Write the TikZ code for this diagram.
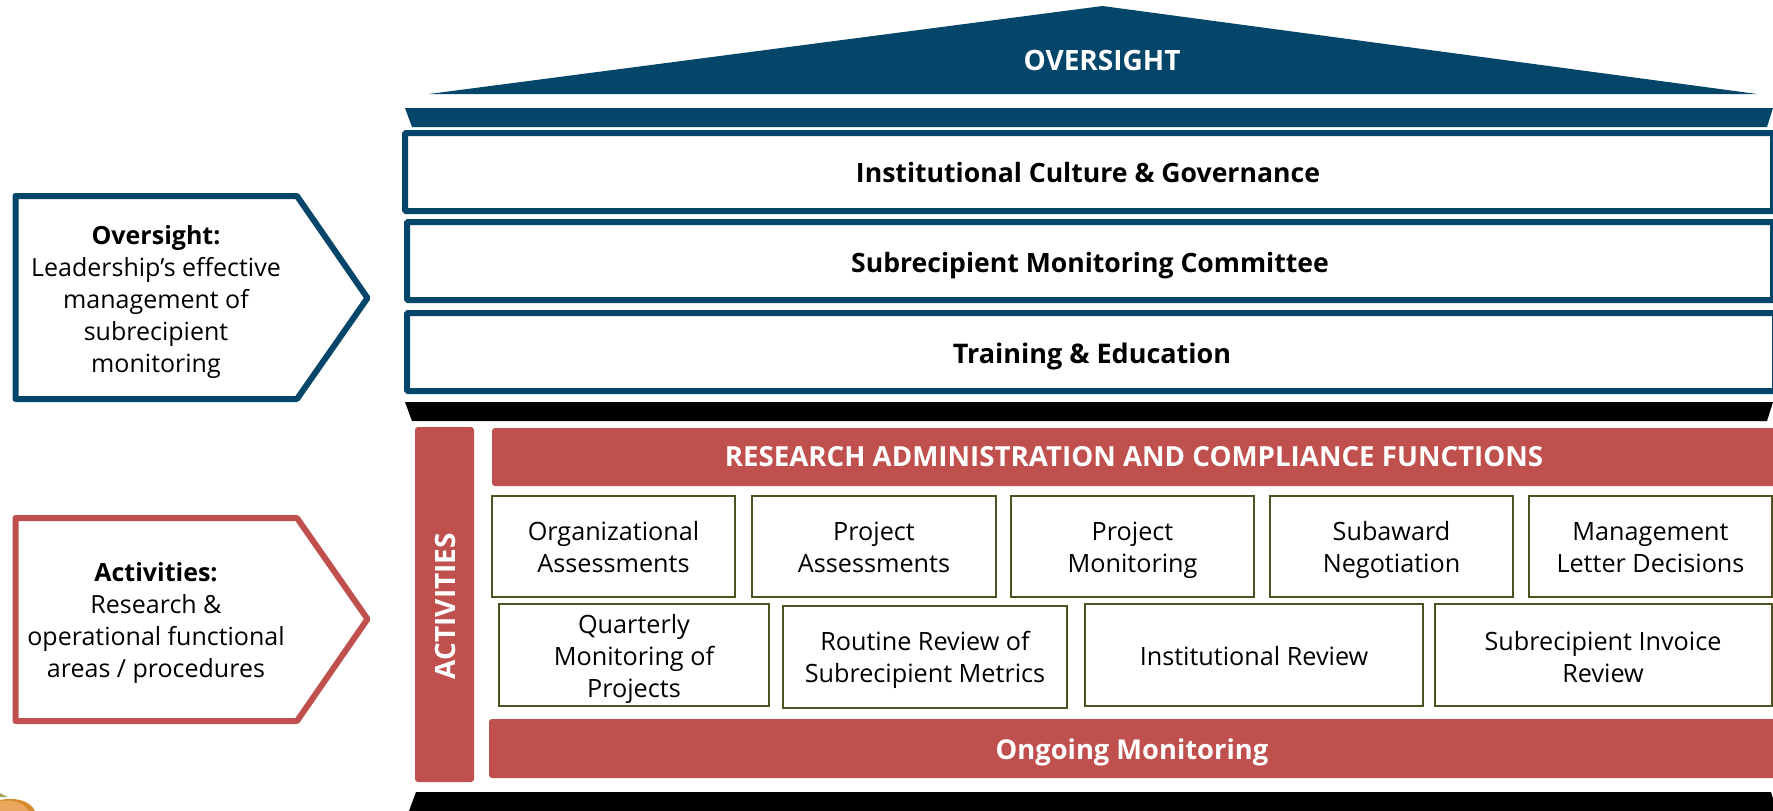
\documentclass[tikz,border=0pt]{standalone}
\usepackage{fontspec}
\setmainfont{Open Sans}
\definecolor{navy}{HTML}{03466A}
\definecolor{brick}{HTML}{C0504D}
\definecolor{olive}{HTML}{4F5120}
\definecolor{logoorange}{HTML}{E9A65C}
\definecolor{logodark}{HTML}{D98A2E}
\definecolor{logogreen}{HTML}{A3A35A}
\tikzset{
  framebox/.style={draw=navy,line width=6pt,fill=white,rounded corners=1pt},
  pent/.style={draw=#1,line width=6pt,fill=white,line join=round},
  redbar/.style={fill=brick,draw=none,rounded corners=3pt},
  itembox/.style={draw=olive,line width=2pt,fill=white},
  txt/.style={font=\fontsize{25.2}{32}\selectfont,align=center,text=black,inner sep=0pt,
    execute at begin node=\strut,execute at end node=\strut},
  sidetxt/.style={font=\fontsize{25}{32}\selectfont,align=center,text=black,inner sep=0pt,
    execute at begin node=\strut,execute at end node=\strut},
  btxt/.style={font=\fontsize{#1}{32}\selectfont\bfseries,align=center},
  captxt/.style={font=\fontsize{#1}{32}\selectfont\bfseries,align=center,text=white},
}
\begin{document}
\begin{tikzpicture}[x=1pt,y=-1pt]
\useasboundingbox (0,0) rectangle (1773,811);
% logo fragment
\fill[logodark] (0,800) .. controls (14,797) and (30,800) .. (35,811) -- (0,811) -- cycle;
\fill[logoorange] (0,801) .. controls (12,799) and (24,803) .. (29,811) -- (0,811) -- cycle;
\fill[logogreen] (0,793) -- (8,797) -- (0,797) -- cycle;
% roof
\fill[navy] (1102.5,6) -- (1757,94) -- (429,94) -- cycle;
\node[captxt=28] (roofl) at (1102,60) {OVERSIGHT};
\fill[navy] (405,108) -- (1773,108) -- (1767,127) -- (412,127) -- cycle;
% oversight rows
\draw[framebox] (405,133) rectangle (1773,211);
\node[btxt=26.6] (r1) at (1088,173) {Institutional Culture \& Governance};
\draw[framebox] (407,222) rectangle (1773,300);
\node[btxt=26.6] (r2) at (1090,265.5) {Subrecipient Monitoring Committee};
\draw[framebox] (407,313) rectangle (1775,391);
\node[btxt=27] (r3) at (1092,356.5) {Training \& Education};
\fill[black] (405,402) -- (1773,402) -- (1767,421) -- (412,421) -- cycle;
% side pentagons
\draw[pent=navy] (15.5,196) -- (297,196) -- (367.5,298) -- (297,399) -- (15.5,399) -- cycle;
\node[sidetxt] (pa) at (156,303.6) {\textbf{Oversight:}\\Leadership’s effective\\management of\\subrecipient\\monitoring};
\draw[pent=brick] (15.5,518) -- (297,518) -- (367.5,619) -- (297,721) -- (15.5,721) -- cycle;
\node[sidetxt] (pb) at (156,624.6) {\textbf{Activities:}\\Research \&\\operational functional\\areas / procedures};
% activities
\fill[redbar] (415,427) rectangle (474,782);
\node[captxt=28,rotate=90] (actl) at (445,606) {ACTIVITIES};
\fill[redbar] (492,428) rectangle (1790,486);
\node[captxt=27.7] (hd) at (1134,457) {RESEARCH ADMINISTRATION AND COMPLIANCE FUNCTIONS};
\fill[redbar] (489,719) rectangle (1790,778);
\node[btxt=27.3,text=white] (og) at (1132,752.5) {Ongoing Monitoring};
% row 1
\foreach \a/\b/\n/\t in {
 492/735/b1/{Organizational\\Assessments},
 752/996/b2/{Project\\Assessments},
 1011/1254/b3/{Project\\Monitoring},
 1270/1513/b4/{Subaward\\Negotiation},
 1529/1772/b5/{Management\\Letter Decisions}}
{ \draw[itembox] (\a,496) rectangle (\b,597);
  \node[txt] (\n) at ({(\a+\b)/2},552) {\t}; }
% row 2
\draw[itembox] (499,604) rectangle (769,706);
\node[txt] (c1) at (634,660.3) {Quarterly\\Monitoring of\\Projects};
\draw[itembox] (783,606) rectangle (1067,708);
\node[txt] (c2) at (925,661.6) {Routine Review of\\Subrecipient Metrics};
\draw[itembox] (1085,604) rectangle (1423,706);
\node[txt] (c3) at (1254,659.5) {Institutional Review};
\draw[itembox] (1435,604) rectangle (1772,706);
\node[txt] (c4) at (1603,661.5) {Subrecipient Invoice\\Review};
% bottom band
\fill[black] (416,792) -- (1771,792) -- (1774,802) -- (1774,811) -- (409,811) -- cycle;
\end{tikzpicture}
\end{document}
